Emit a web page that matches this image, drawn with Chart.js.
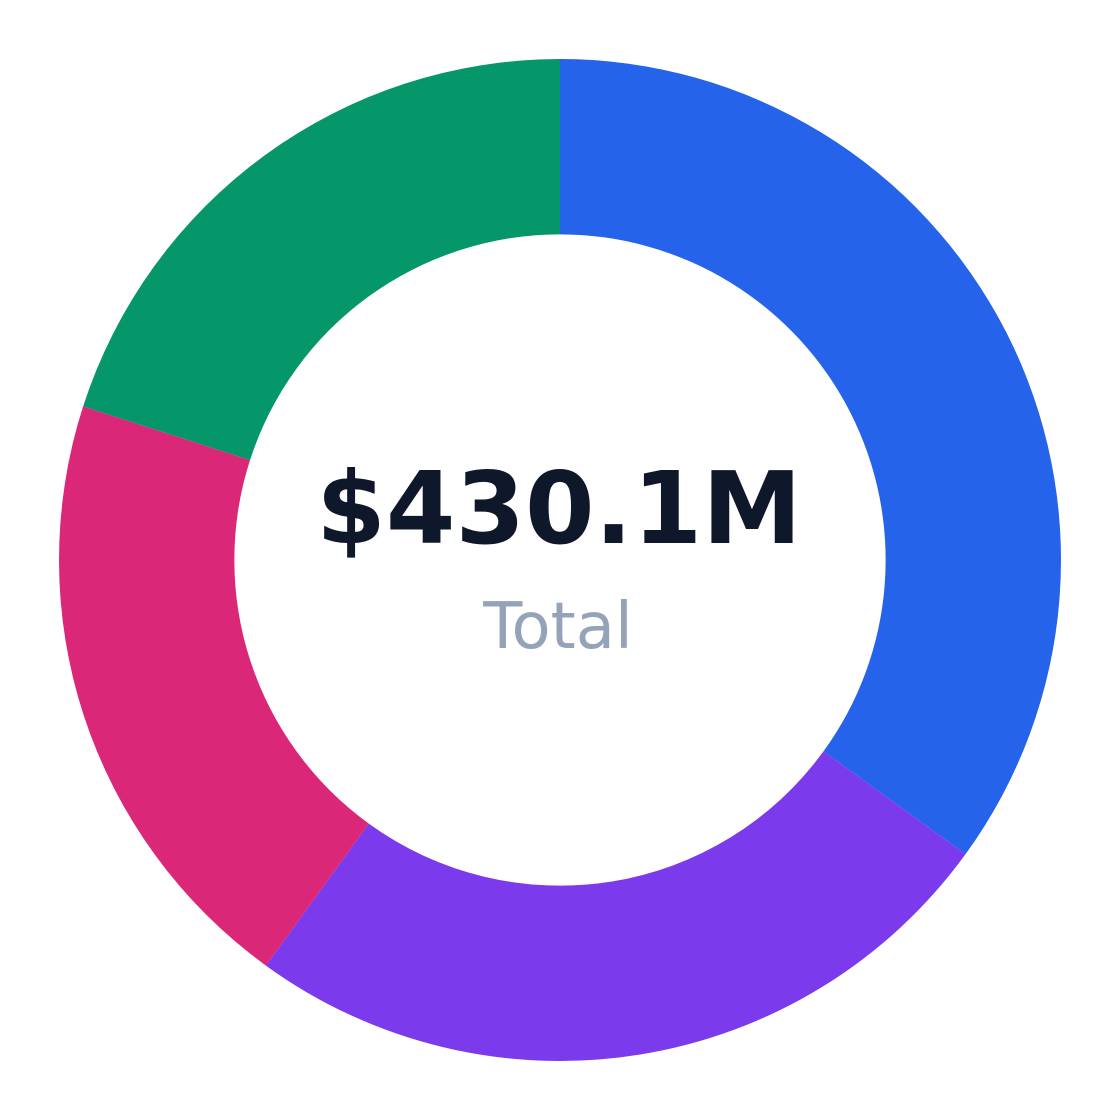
<!DOCTYPE html>
<html>
<head>
<meta charset="utf-8">
<style>
  html, body { margin: 0; padding: 0; background: #ffffff; }
  #wrap { width: 1120px; height: 1120px; position: relative; }
</style>
<script src="https://cdn.jsdelivr.net/npm/chart.js@4"></script>
</head>
<body>
<div id="wrap"><canvas id="c"></canvas></div>
<script>
const categories = ["Segment A", "Segment B", "Segment C", "Segment D"];
const values = [150.5, 107.5, 85.9, 86.2];
const colors = ["#2563eb", "#7c3aed", "#db2777", "#059669"];
const centerValue = "$430.1M";
const centerLabel = "Total";

const centerText = {
  id: "centerText",
  afterDraw(chart) {
    const meta = chart.getDatasetMeta(0);
    if (!meta.data.length) return;
    const x = meta.data[0].x, y = meta.data[0].y;
    const ctx = chart.ctx;
    ctx.save();
    ctx.textAlign = "center";
    ctx.textBaseline = "alphabetic";
    ctx.fillStyle = "#0f172a";
    ctx.font = "bold 100px 'DejaVu Sans'";
    ctx.fillText(centerValue, x - 1, y - 17);
    ctx.fillStyle = "#94a3b8";
    ctx.font = "64px 'DejaVu Sans'";
    ctx.fillText(centerLabel, x - 2, y + 88);
    ctx.restore();
  }
};

new Chart(document.getElementById("c"), {
  type: "doughnut",
  data: {
    labels: categories,
    datasets: [{
      data: values,
      backgroundColor: colors,
      borderWidth: 0,
      hoverOffset: 0
    }]
  },
  options: {
    responsive: true,
    maintainAspectRatio: false,
    animation: false,
    devicePixelRatio: 2,
    cutout: "65%",
    layout: { padding: 59 },
    plugins: {
      legend: { display: false },
      tooltip: { enabled: false }
    }
  },
  plugins: [centerText]
});
</script>
</body>
</html>
